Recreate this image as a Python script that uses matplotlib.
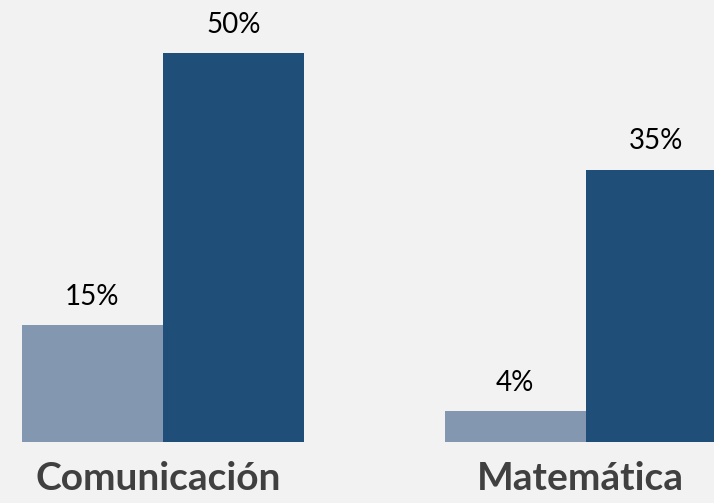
import matplotlib
matplotlib.use('Agg')
import matplotlib.pyplot as plt
import numpy as np

categories = ['Comunicación', 'Matemática']
serie_1 = [15, 4]
serie_2 = [50, 35]
colors = ['#8497B0', '#1F4E79']

fig = plt.figure(figsize=(7.14, 5.03), dpi=100, facecolor='#F2F2F2')
ax = fig.add_axes([0, 0.1213, 1, 0.8787])
ax.set_facecolor('#F2F2F2')

x = np.arange(len(categories))
w = 1 / 3
b1 = ax.bar(x - w / 2, serie_1, w, color=colors[0])
b2 = ax.bar(x + w / 2, serie_2, w, color=colors[1])

for bars in (b1, b2):
    for r in bars:
        ax.text(r.get_x() + r.get_width() / 2, r.get_height() + 2.6, '%d%%' % r.get_height(),
                ha='center', va='baseline', fontsize=20, color='black', family='Lato')

for xi, c in zip(x, categories):
    ax.text(xi - 0.012, -4.7, c, ha='center', va='center', fontsize=28, fontweight='bold',
            color='#404040', family='Lato', clip_on=False)

ax.set_xlim(-0.385, 1.303)
ax.set_ylim(0, 56.8)
ax.axis('off')

fig.savefig('out.png', dpi=100, facecolor=fig.get_facecolor())
